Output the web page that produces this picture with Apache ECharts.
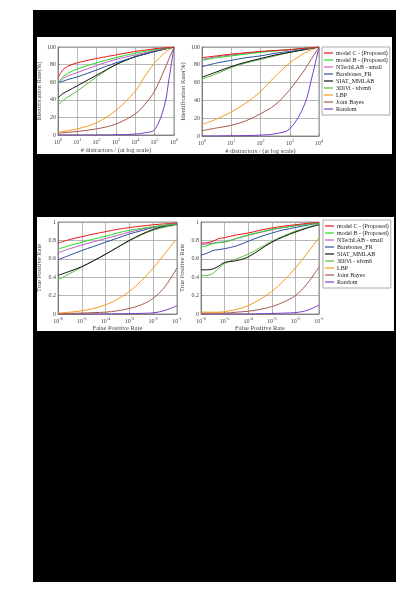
<!DOCTYPE html>
<html><head><meta charset="utf-8">
<script src="https://cdn.jsdelivr.net/npm/echarts@6/dist/echarts.min.js"></script>
<style>
html,body{margin:0;padding:0;background:#fff;width:414px;height:615px;overflow:hidden;position:relative}
.blk{position:absolute;left:33px;top:10px;width:363px;height:572px;background:#000}
.pnl{position:absolute;background:#fff}
#c{position:absolute;left:0;top:0;width:414px;height:615px}
</style></head>
<body>
<div class="blk"></div>
<div class="pnl" style="left:37px;top:37px;width:355px;height:117px"></div>
<div class="pnl" style="left:37px;top:217px;width:357px;height:114px"></div>
<div id="c"></div>
<script>
// ---------- data ----------
const seriesNames = ['model C - (Proposed)','model B - (Proposed)','NTechLAB - small','Barebones_FR','SIAT_MMLAB','3DiVi - tdvm6','LBP','Joint Bayes','Random'];

// Top-left: identification rate vs # distractors (x as log10 exponents)
const idLeftExp = [0,0.25,0.5,1,2,3,4,4.5,5,5.5,5.75,6];
const idLeft = [
  [65,74,78,82,87,91,95,96.5,98,99,99.5,100],
  [59,66,70,75,82,88,93,95,97,98.5,99.2,100],
  [58,64,67,71,79,86,91,93.5,96,98,99,100],
  [59,61,63,66,74,82,89,92,95,97.5,98.8,100],
  [42,47,50,56,68,80,89,92,95,97.5,98.8,100],
  [34,39,43,50,66,80,89,92,95,97.5,98.8,100],
  [3,4,5,7,14,28,50,67,82,93,97,100],
  [2,2.5,3,4,7,12.5,24,35,50,74,87,100],
  [0,0,0,0,0,0.3,1,2.5,6,33,65,100]
];
// Top-right
const idRightExp = [0,0.5,1,1.5,2,2.5,3,3.5,3.75,4];
const idRight = [
  [88,90,92,93.5,95,96,97,98.5,99.2,100],
  [85,88,90,92,94,95.5,97,98.5,99.2,100],
  [86,89,91,93,94.5,96,97,98.5,99.2,100],
  [78,82,85,88,90,93,95,97.5,98.8,100],
  [66,72,78,83,87,91,94,97,98.5,100],
  [64,70,77,82,86,90,94,97,98.5,100],
  [13,19,27,37,50,67,82,93,97,100],
  [6,9,12,17,25,35,52,74,87,100],
  [0,0.1,0.3,0.5,1,2.5,8,35,65,100]
];
// Bottom-left: ROC
const rocLeftExp = [-6,-5.5,-5,-4.5,-4,-3.5,-3,-2.5,-2,-1.5,-1];
const rocLeft = [
  [.77,.81,.84,.87,.895,.92,.94,.955,.97,.98,.99],
  [.705,.745,.78,.815,.845,.88,.91,.93,.95,.965,.98],
  [.665,.71,.75,.785,.82,.855,.89,.92,.945,.965,.98],
  [.59,.64,.69,.735,.78,.825,.87,.905,.94,.96,.98],
  [.42,.465,.515,.58,.65,.725,.80,.865,.92,.955,.975],
  [.37,.44,.51,.58,.65,.725,.795,.86,.91,.945,.97],
  [.01,.02,.035,.06,.10,.16,.245,.36,.50,.66,.82],
  [.005,.007,.01,.015,.02,.035,.06,.10,.17,.30,.50],
  [0,0,0,0,0,.002,.004,.007,.012,.04,.09]
];
// Bottom-right: ROC
const rocRightExp = [-6,-5.75,-5.5,-5.25,-5,-4.5,-4,-3.5,-3,-2.5,-2,-1.5,-1];
const rocRight = [
  [.77,.775,.79,.82,.83,.86,.88,.91,.935,.955,.97,.985,.995],
  [.73,.74,.765,.775,.78,.82,.86,.89,.92,.94,.96,.975,.99],
  [.755,.76,.77,.78,.785,.82,.855,.885,.915,.94,.96,.975,.99],
  [.64,.66,.69,.70,.71,.74,.79,.84,.88,.915,.94,.965,.99],
  [.48,.48,.49,.52,.56,.58,.62,.70,.78,.84,.89,.935,.97],
  [.42,.42,.44,.50,.55,.60,.65,.72,.79,.85,.90,.94,.98],
  [.02,.02,.02,.02,.025,.05,.09,.16,.245,.36,.50,.66,.83],
  [.01,.01,.01,.01,.01,.02,.03,.05,.08,.13,.20,.33,.51],
  [0,0,0,0,0,0,0,.003,.005,.01,.015,.04,.097]
];
const yTicksId = [0,20,40,60,80,100];
const yTicksRoc = [0,0.2,0.4,0.6,0.8,1];

// ---------- styles ----------
const colors = ['#e8171b','#22dd22','#c35bc3','#2b4f9c','#111111','#5dba45','#f59b1c','#a5594a','#7a3ec8'];
const FONT = '"Liberation Serif","DejaVu Serif",serif';
const grids = [
  {left:58, top:47, width:116, height:88},
  {left:202, top:47, width:117, height:89},
  {left:58, top:222, width:119, height:92},
  {left:201, top:222, width:118, height:92}
];
const chart = echarts.init(document.getElementById('c'), null, {renderer:'canvas'});

function xAxis(gi, min, max, name, gap){
  return {type:'log', logBase:10, gridIndex:gi, min:min, max:max,
    splitNumber: Math.round(Math.log10(max/min)),
    name:name, nameLocation:'middle', nameGap:gap,
    nameTextStyle:{fontFamily:FONT, fontSize:6.5, color:'#444'},
    axisLine:{show:true, lineStyle:{color:'#777', width:0.8}},
    axisTick:{show:true, inside:true, length:2, lineStyle:{color:'#777', width:0.6}},
    minorTick:{show:false},
    splitLine:{show:true, lineStyle:{color:'#9a9a9a', width:0.7}},
    axisLabel:{fontFamily:FONT, fontSize:6, color:'#444', margin:3,
      formatter: v => '10{s|' + Math.round(Math.log10(v)) + '}',
      rich:{s:{fontFamily:FONT, fontSize:4.2, color:'#444', verticalAlign:'top', padding:[0,0,4,0]}}}
  };
}
function yAxis(gi, ticks, name, gap){
  return {type:'value', gridIndex:gi, min:ticks[0], max:ticks[ticks.length-1],
    interval: ticks[1]-ticks[0],
    name:name, nameLocation:'middle', nameGap:gap, nameRotate:90,
    nameTextStyle:{fontFamily:FONT, fontSize:6.5, color:'#444'},
    axisLine:{show:true, lineStyle:{color:'#777', width:0.8}},
    axisTick:{show:true, inside:true, length:2, lineStyle:{color:'#777', width:0.6}},
    splitLine:{show:true, lineStyle:{color:'#9a9a9a', width:0.7}},
    axisLabel:{fontFamily:FONT, fontSize:6, color:'#444', margin:2,
      formatter: v => String(Math.round(v*10)/10)}
  };
}

const xAxes = [
  xAxis(0, 1, 1e6, '# distractors / (at log scale)', 12),
  xAxis(1, 1, 1e4, '# distractors / (at log scale)', 12),
  xAxis(2, 1e-6, 1e-1, 'False Positive Rate', 10),
  xAxis(3, 1e-6, 1e-1, 'False Positive Rate', 10)
];
const yAxes = [
  yAxis(0, yTicksId, 'Identification Rate(%)', 15),
  yAxis(1, yTicksId, 'Identification Rate(%)', 14),
  yAxis(2, yTicksRoc, 'True Positive Rate', 15),
  yAxis(3, yTicksRoc, 'True Positive Rate', 15)
];

const panels = [[idLeftExp, idLeft],[idRightExp, idRight],[rocLeftExp, rocLeft],[rocRightExp, rocRight]];
const series = [];
panels.forEach(([xs, ys], gi) => {
  ys.forEach((vals, si) => {
    series.push({
      type:'line', name:seriesNames[si], xAxisIndex:gi, yAxisIndex:gi,
      data: xs.map((e,i) => [Math.pow(10,e), vals[i]]),
      showSymbol:false, symbol:'none', smooth:0.35, clip:true,
      lineStyle:{color:colors[si], width:1}, itemStyle:{color:colors[si]},
      z: 10 - si
    });
  });
});

function legend(left, top, w, h){
  return {show:true, orient:'vertical', left:left, top:top, width:w, height:h,
    data: seriesNames, icon:'rect', itemWidth:9, itemHeight:1.2, itemGap:1,
    padding:[3,2,3,2], borderColor:'#aaa', borderWidth:1, backgroundColor:'#fff',
    textStyle:{fontFamily:FONT, fontSize:6, color:'#222', padding:[0,0,0,-2], lineHeight:6},
    selectedMode:false};
}

chart.setOption({
  backgroundColor:'transparent',
  animation:false,
  grid: grids.map(g => Object.assign({show:true, borderColor:'#777', borderWidth:0.8, backgroundColor:'#fff'}, g)),
  xAxis: xAxes,
  yAxis: yAxes,
  legend: [legend(322, 47, 69, 66), legend(323, 220, 70, 67)],
  series: series
});
</script>
</body></html>
